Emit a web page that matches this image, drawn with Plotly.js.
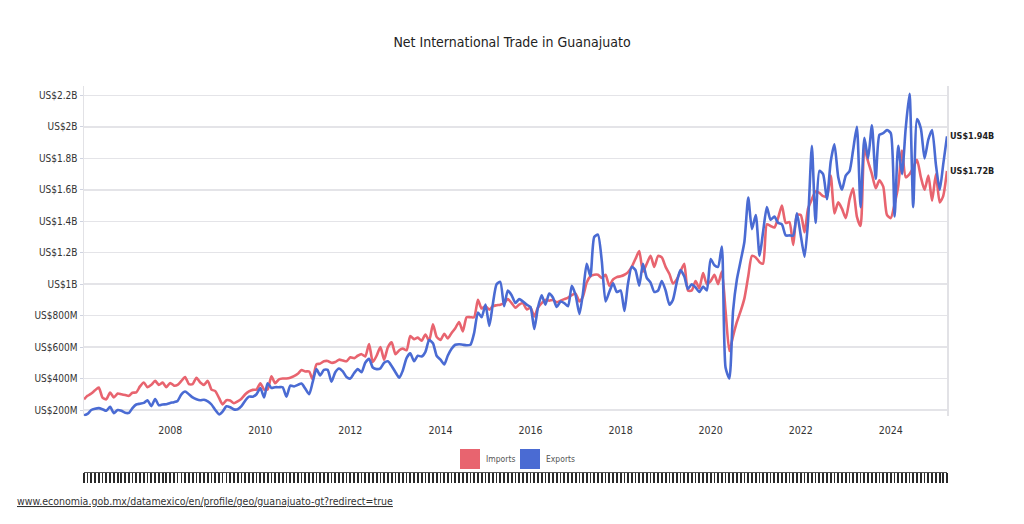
<!DOCTYPE html>
<html>
<head>
<meta charset="utf-8">
<script src="https://cdn.plot.ly/plotly-3.0.1.min.js"></script>
<style>
html,body{margin:0;padding:0;background:#fff;}
#chart{width:1024px;height:524px;}
</style>
</head>
<body>
<div id="chart"></div>
<script>
// Monthly series, Feb 2006 .. Apr 2025, values in millions of USD
const startMonth = '2006-02';
const imports = [
 268, 290, 305, 325, 343, 279, 268, 311, 280, 305,
 300, 295, 290, 310, 312, 350, 375, 345, 360, 385,
 360, 374, 345, 372, 355, 360, 385, 410, 365, 365,
 405, 375, 360, 385, 330, 320, 275, 236, 262, 260,
 243, 255, 272, 300, 318, 328, 330, 370, 330, 330,
 415, 370, 395, 400, 400, 405, 415, 430, 454, 445,
 445, 395, 490, 495, 510, 512, 500, 505, 520, 515,
 510, 535, 530, 545, 555, 540, 620, 505, 545, 600,
 520, 600, 630, 555, 580, 590, 580, 670, 650, 660,
 640, 680, 640, 745, 665, 645, 685, 655, 690, 720,
 760, 700, 790, 790, 790, 900, 845, 860, 838, 860,
 866, 870, 880, 905, 880, 850, 870, 880, 840, 850,
 795, 850, 880, 900, 895, 900, 885, 895, 905, 915,
 930, 940, 890, 920, 1010, 1050, 1060, 1060, 1040, 1060,
 990, 1030, 1045, 1050, 1060, 1075, 1110, 1160, 1210, 1080,
 1130, 1180, 1110, 1180, 1170, 1110, 1065, 1005, 1030, 1080,
 1130, 960, 960, 1020, 975, 1070, 1000, 1020, 1060, 1000,
 1080, 830, 575, 670, 760, 830, 910, 1050, 1180, 1170,
 1140, 1130, 1380, 1370, 1360, 1420, 1500, 1390, 1395, 1250,
 1440, 1440, 1330, 1480, 1540, 1590, 1580, 1560, 1560, 1690,
 1450, 1520, 1480, 1420, 1540, 1610, 1430, 1370, 1860, 1780,
 1700, 1610, 1660, 1620, 1440, 1420, 1510, 1620, 1850, 1680,
 1700, 1740, 1790, 1680, 1600, 1690, 1530, 1700, 1520, 1560, 1720
];
const exports = [
 166, 175, 200, 208, 212, 205, 195, 220, 180, 200,
 195, 182, 182, 212, 235, 240, 245, 262, 225, 270,
 230, 235, 237, 245, 250, 258, 300, 318, 300, 280,
 268, 262, 265, 255, 235, 200, 172, 190, 224, 218,
 204, 205, 225, 260, 285, 285, 300, 340, 280, 370,
 340, 345, 345, 345, 285, 355, 350, 360, 368, 335,
 300, 375, 460, 420, 455, 455, 380, 440, 464, 445,
 410, 400, 435, 460, 440, 500, 525, 470, 460, 465,
 500, 510, 480, 440, 405, 450, 530, 560, 510, 545,
 540, 570, 645, 625, 545, 520, 490, 545, 590, 615,
 618, 615, 612, 615, 690, 820, 790, 870, 735, 870,
 1000, 1015, 860, 960, 930, 880, 905, 890, 870, 855,
 715, 850, 930, 870, 940, 915, 855, 890, 880, 860,
 990, 930, 810, 940, 1130, 1050, 1300, 1315, 1150, 890,
 950, 1005, 950, 960, 830, 1000, 1110, 1090, 990, 1130,
 1040, 1010, 950, 960, 1020, 960, 870, 900, 1010, 1090,
 1050, 970, 1000, 980, 950, 985, 960, 1160, 1120, 1110,
 1240, 470, 400, 830, 1030, 1150, 1270, 1550, 1350, 1440,
 1180, 1330, 1490, 1410, 1430, 1390, 1380, 1310, 1310, 1310,
 1450, 1310, 1175, 1400, 1880, 1390, 1720, 1700, 1540, 1780,
 1890, 1680, 1600, 1690, 1720, 1850, 2000, 1490, 1930, 1800,
 2010, 1670, 1950, 1960, 1980, 1960, 1430, 1880, 1700, 1990,
 2210, 1490, 2050, 1990, 1800, 1920, 1980, 1760, 1600, 1760, 1940
];
const seriesNames = ['Imports', 'Exports'];
const seriesColors = ['#e8646f', '#4a6bd3'];
const yTickVals = [200, 400, 600, 800, 1000, 1200, 1400, 1600, 1800, 2000, 2200];
const yTickText = ['US$200M','US$400M','US$600M','US$800M','US$1B','US$1.2B','US$1.4B','US$1.6B','US$1.8B','US$2B','US$2.2B'];
const xTickVals = ['2008-01-01','2010-01-01','2012-01-01','2014-01-01','2016-01-01','2018-01-01','2020-01-01','2022-01-01','2024-01-01'];
const xTickText = ['2008','2010','2012','2014','2016','2018','2020','2022','2024'];
const titleText = 'Net International Trade in Guanajuato';
const sourceText = 'www.economia.gob.mx/datamexico/en/profile/geo/guanajuato-gt?redirect=true';

// month date strings
const dates = [];
{
  let y = parseInt(startMonth.slice(0,4)), m = parseInt(startMonth.slice(5,7));
  for (let i = 0; i < imports.length; i++) {
    dates.push(y + '-' + String(m).padStart(2,'0') + '-01');
    m++; if (m > 12) { m = 1; y++; }
  }
}

const FONT = '"Liberation Sans Narrow", "DejaVu Sans Condensed", "Roboto", sans-serif';
const fmt = v => 'US$' + (v >= 1000 ? (v/1000).toFixed(2) + 'B' : v.toFixed(0) + 'M');

const traces = [
  {x: dates, y: imports, name: seriesNames[0], type: 'scatter', mode: 'lines',
   line: {color: seriesColors[0], width: 2.6, shape: 'spline', smoothing: 0.6}},
  {x: dates, y: exports, name: seriesNames[1], type: 'scatter', mode: 'lines',
   line: {color: seriesColors[1], width: 2.6, shape: 'spline', smoothing: 0.6}},
  {x: dates, y: imports, xaxis: 'x2', type: 'scatter', mode: 'none', showlegend: false, hoverinfo: 'skip'}
];

const lastI = imports[imports.length-1], lastE = exports[exports.length-1];
const lastD = dates[dates.length-1];

const annotations = [
  {x: lastD, y: lastE, xref: 'x', yref: 'y', text: '<b>' + fmt(lastE) + '</b>', showarrow: false,
   xanchor: 'left', yanchor: 'middle', xshift: 1, font: {family: FONT, size: 9, color: '#222'}},
  {x: lastD, y: lastI, xref: 'x', yref: 'y', text: '<b>' + fmt(lastI) + '</b>', showarrow: false,
   xanchor: 'left', yanchor: 'middle', xshift: 1, font: {family: FONT, size: 9, color: '#222'}},
  // legend labels
  {x: (484-84)/863, y: (490-459)/404, xref: 'paper', yref: 'paper', text: seriesNames[0], showarrow: false,
   xanchor: 'left', yanchor: 'middle', font: {family: FONT, size: 8.5, color: '#555'}},
  {x: (544-84)/863, y: (490-459)/404, xref: 'paper', yref: 'paper', text: seriesNames[1], showarrow: false,
   xanchor: 'left', yanchor: 'middle', font: {family: FONT, size: 8.5, color: '#555'}},
  // source
  {x: (15-84)/863, y: (490-501)/404, xref: 'paper', yref: 'paper', text: '<u>' + sourceText + '</u>', showarrow: false,
   xanchor: 'left', yanchor: 'middle', font: {family: FONT, size: 10.5, color: '#333'}}
];

const shapes = [
  {type: 'rect', xref: 'paper', yref: 'paper', x0: (460-84)/863, x1: (480-84)/863, y0: (490-469)/404, y1: (490-449)/404,
   fillcolor: seriesColors[0], line: {width: 0}},
  {type: 'rect', xref: 'paper', yref: 'paper', x0: (520-84)/863, x1: (540-84)/863, y0: (490-469)/404, y1: (490-449)/404,
   fillcolor: seriesColors[1], line: {width: 0}}
];

const layout = {
  width: 1024, height: 524,
  margin: {l: 84, r: 77, t: 86, b: 34},
  paper_bgcolor: '#fff', plot_bgcolor: '#fff',
  showlegend: false,
  title: {text: titleText, x: 0.5, xanchor: 'center', y: 1 - 42/524, yanchor: 'middle', yref: 'container',
          font: {family: FONT, size: 14, color: '#222'}},
  xaxis: {
    type: 'date', range: [dates[0], lastD], anchor: 'y',
    tickvals: xTickVals, ticktext: xTickText, ticks: '', showgrid: false, showline: false, zeroline: false,
    tickfont: {family: FONT, size: 10.5, color: '#333'}, ticklabelstandoff: 6
  },
  xaxis2: {
    type: 'date', range: [dates[0], lastD], overlaying: 'x', anchor: 'free', position: (490-472)/404, side: 'bottom',
    dtick: 'M1', tick0: dates[0], ticks: 'outside', ticklen: 10, tickwidth: 1.8, tickcolor: '#2a2a2a',
    showticklabels: false, showgrid: false, showline: true, linecolor: '#555', linewidth: 1, zeroline: false
  },
  yaxis: {
    domain: [(490-416.3)/404, 1], range: [160, 2260],
    tickvals: yTickVals, ticktext: yTickText, ticks: 'outside', ticklen: 3, tickcolor: '#cfd3e0',
    showgrid: true, gridcolor: '#e4e4e8', gridwidth: 1.5, zeroline: false,
    showline: true, mirror: true, linecolor: '#e2e2e6', linewidth: 1.5,
    tickfont: {family: FONT, size: 10, color: '#333'}
  },
  annotations: annotations,
  shapes: shapes
};

Plotly.newPlot('chart', traces, layout, {displayModeBar: false, staticPlot: true});
</script>
</body>
</html>
